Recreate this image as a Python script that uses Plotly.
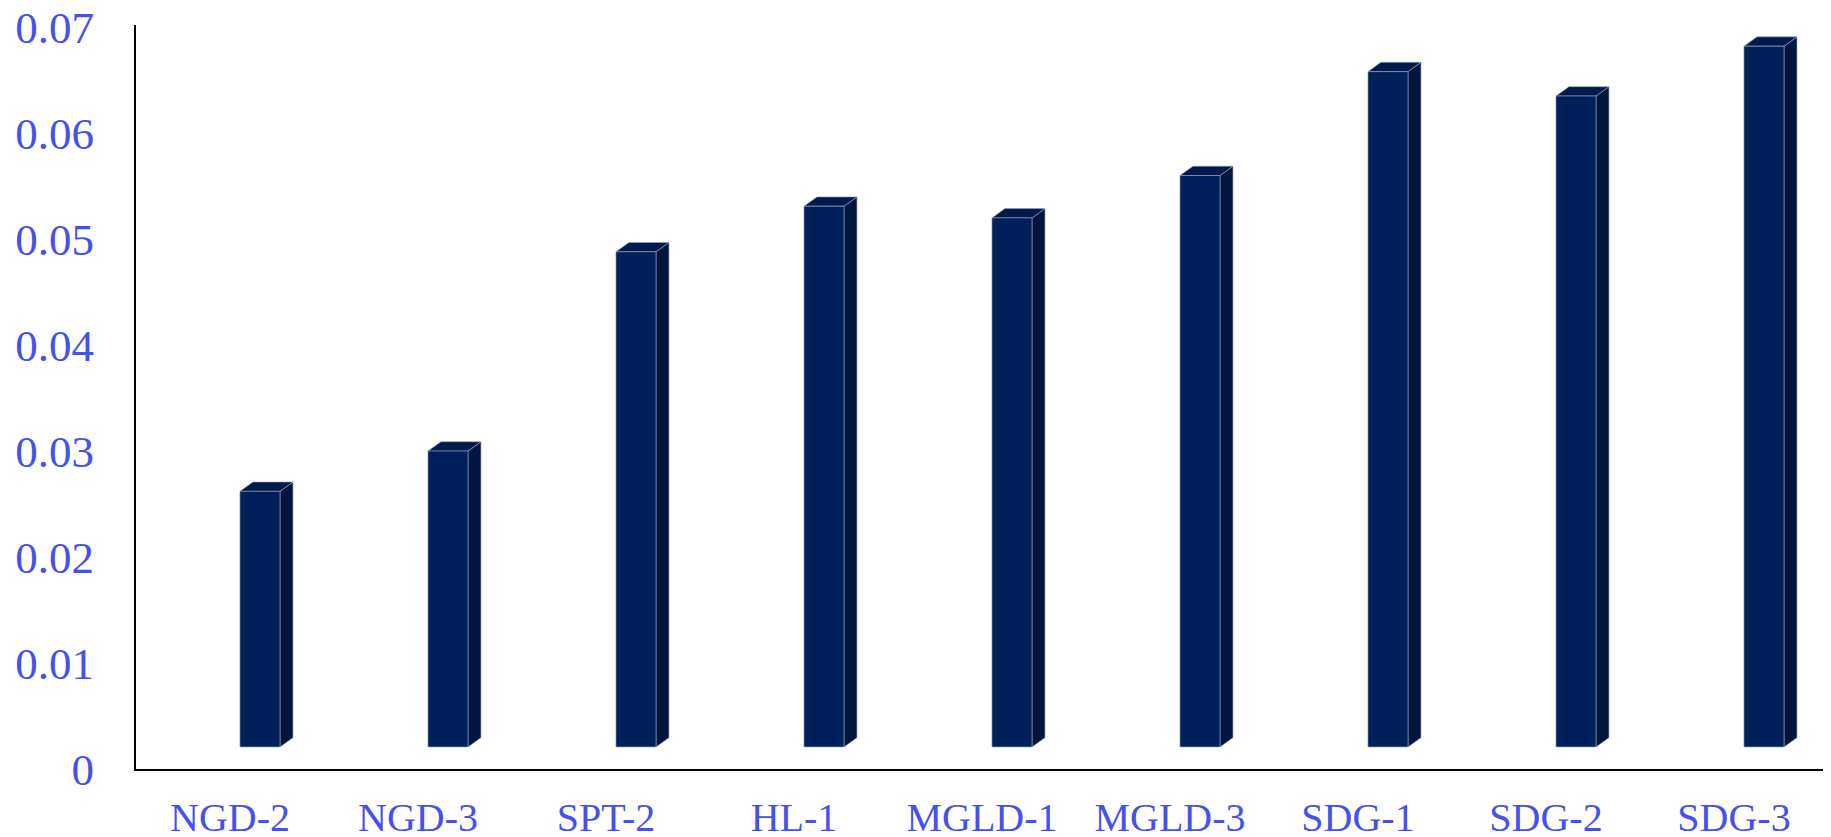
import plotly.graph_objects as go

categories = ["NGD-2", "NGD-3", "SPT-2", "HL-1", "MGLD-1", "MGLD-3", "SDG-1", "SDG-2", "SDG-3"]
values = [0.0262, 0.0300, 0.0488, 0.0531, 0.0520, 0.0560, 0.0658, 0.0635, 0.0682]
y_ticks = [0, 0.01, 0.02, 0.03, 0.04, 0.05, 0.06, 0.07]
y_tick_labels = ["0", "0.01", "0.02", "0.03", "0.04", "0.05", "0.06", "0.07"]

# 3D projection style (in axis units)
X0, X1 = 0.053, 0.266      # front face horizontal extent relative to category centre
DX = 0.069                 # depth shift in x
BASE = 0.00208             # projected floor of the front face
DY = 0.00088               # depth shift in y

FRONT = "#00205C"
SIDE = "#00163F"
TOP = "#001A4E"
EDGE = "rgba(150,160,190,0.9)"

fx, fy, sx, sy, tx, ty = [], [], [], [], [], []
for i, v in enumerate(values):
    a, b = i + X0, i + X1
    fx += [a, b, b, a, a, None]
    fy += [BASE, BASE, v, v, BASE, None]
    sx += [b, b + DX, b + DX, b, b, None]
    sy += [BASE, BASE + DY, v + DY, v, BASE, None]
    tx += [a, b, b + DX, a + DX, a, None]
    ty += [v, v, v + DY, v + DY, v, None]

fig = go.Figure()
for xs, ys, col in [(sx, sy, SIDE), (tx, ty, TOP), (fx, fy, FRONT)]:
    fig.add_trace(go.Scatter(x=xs, y=ys, mode="lines", fill="toself", fillcolor=col,
                             line=dict(color=EDGE, width=0.7), hoverinfo="skip",
                             showlegend=False))

tickfont_color = "#4650EE"
fig.update_layout(
    width=1823, height=829,
    margin=dict(l=128, r=3, t=17, b=68, autoexpand=False),
    paper_bgcolor="white", plot_bgcolor="white",
    showlegend=False,
    xaxis=dict(range=[-0.5, 8.5], tickvals=list(range(len(categories))), ticktext=categories,
               showgrid=False, zeroline=False, showline=True, linecolor="black", linewidth=2,
               ticks="", ticklabelstandoff=12, automargin=False, ticklabeloverflow="allow",
               tickfont=dict(family="Liberation Serif, Times New Roman, serif", size=40, color=tickfont_color)),
    yaxis=dict(range=[0, 0.0702], tickvals=y_ticks, ticktext=y_tick_labels,
               showgrid=False, zeroline=False, showline=True, linecolor="black", linewidth=2,
               ticks="", ticklabelstandoff=31, automargin=False, ticklabeloverflow="allow",
               tickfont=dict(family="Liberation Serif, Times New Roman, serif", size=45, color=tickfont_color)),
)

fig.write_html("out.html")
